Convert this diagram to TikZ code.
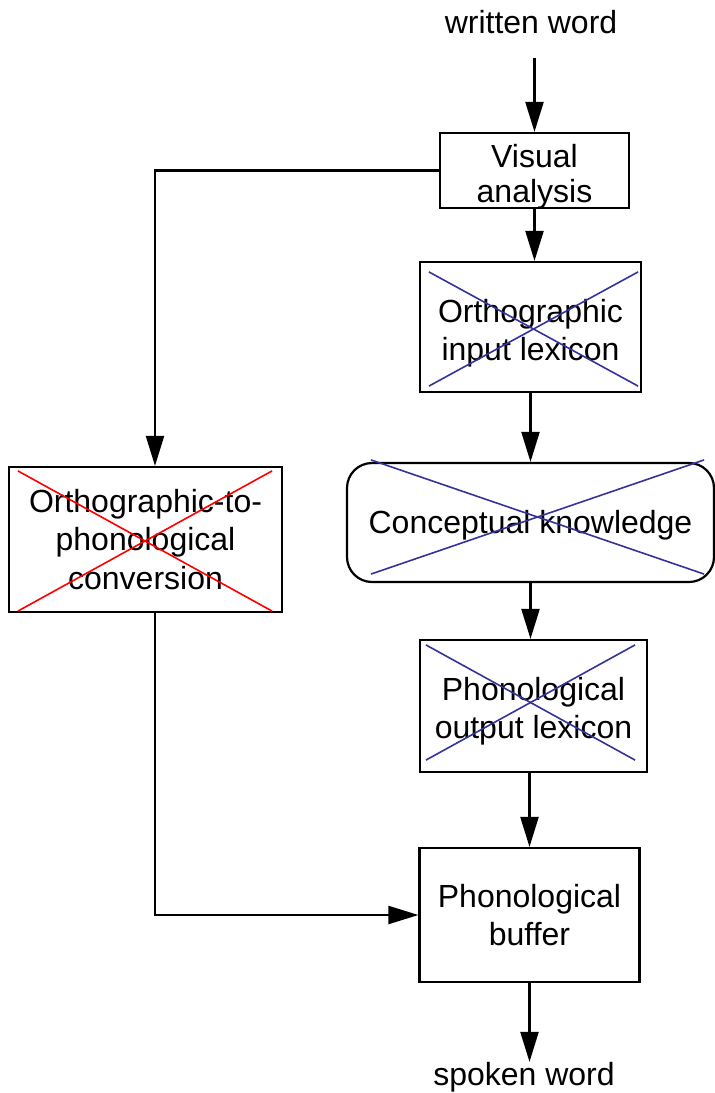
\documentclass[tikz,border=0pt]{standalone}
\usepackage{fontspec}
\setmainfont{Liberation Sans}
\usetikzlibrary{arrows.meta,calc}
\definecolor{crossblue}{HTML}{333399}
\begin{document}
\begin{tikzpicture}[x=1pt,y=-1pt,
  every node/.style={font=\fontsize{32}{38.5}\selectfont, align=center, inner sep=0pt},
  box/.style={draw, line width=2.2pt, rectangle},
  arr/.style={draw, line width=2.2pt, -{Triangle[length=30pt,width=18pt]}},
  bluex/.style={crossblue, line width=1.6pt},
  redx/.style={red, line width=1.6pt}]
\useasboundingbox (0,0) rectangle (715,1093);

% stages of the reading route (frames)
\node[box, minimum width=189pt, minimum height=75pt] (vis) at (534.5,170.5) {};
\node[box, minimum width=221pt, minimum height=130pt] (oil) at (530.5,327) {};
\node[box, rounded corners=25pt, minimum width=367pt, minimum height=119pt] (ck) at (530.5,522.5) {};
\node[box, minimum width=227pt, minimum height=132pt] (pol) at (533.5,706) {};
\node[box, minimum width=220pt, minimum height=134pt] (pb) at (529.5,915) {};
\node[box, minimum width=273pt, minimum height=145pt] (otp) at (145.5,539.5) {};

% labels
\node (ww) at (531,22) {written word};
\node (sw) at (524,1077) {spoken word};
\node[font=\fontsize{32}{35}\selectfont] (vis-t) at ([yshift=-6pt]vis.center) {Visual\\analysis};
\node (oil-t) at ([yshift=-6pt]oil.center) {Orthographic\\input lexicon};
\node (ck-t) at ([yshift=-3pt]ck.center) {Conceptual knowledge};
\node (pol-t) at ([yshift=-5pt]pol.center) {Phonological\\output lexicon};
\node (pb-t) at (pb.center) {Phonological\\buffer};
\node (otp-t) at (otp.center) {Orthographic-to-\\phonological\\conversion};

% lesion marks
\draw[bluex] ($(oil.north west)+(10,11)$) -- ($(oil.south east)+(-4,-7)$);
\draw[bluex] ($(oil.south west)+(10,-7)$) -- ($(oil.north east)+(-4,11)$);
\draw[bluex] ($(ck.north west)+(25,-2)$) -- ($(ck.south east)+(-11,-9)$);
\draw[bluex] ($(ck.south west)+(25,-9)$) -- ($(ck.north east)+(-11,-2)$);
\draw[bluex] ($(pol.north west)+(7,6)$) -- ($(pol.south east)+(-13,-13)$);
\draw[bluex] ($(pol.south west)+(7,-13)$) -- ($(pol.north east)+(-13,6)$);
\draw[redx] ($(otp.north west)+(10,5)$) -- ($(otp.south east)+(-11,-2)$);
\draw[redx] ($(otp.south west)+(10,-2)$) -- ($(otp.north east)+(-11,5)$);

% connections
\draw[arr] ([yshift=-24pt]ww.south -| vis.north) -- (vis.north);
\draw[arr] (vis.south) -- (vis.south |- oil.north);
\draw[arr] (oil.south) -- (oil.south |- ck.north);
\draw[arr] (ck.south) -- (ck.south |- pol.north);
\draw[arr] (pb.north |- pol.south) -- (pb.north);
\draw[arr] (pb.south) -- (pb.south |- sw.north);
\draw[arr] (vis.west) -| ([xshift=9.5pt]otp.north);
\draw[arr] ([xshift=9.5pt]otp.south) |- (pb.west);
\end{tikzpicture}
\end{document}
